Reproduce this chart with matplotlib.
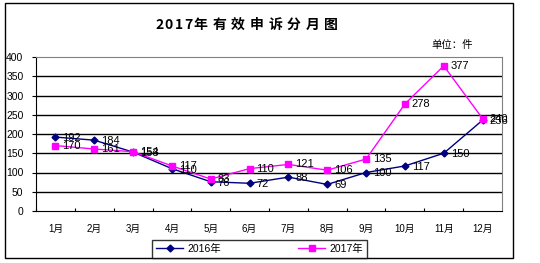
import matplotlib
matplotlib.use('Agg')
import matplotlib.pyplot as plt
from matplotlib.patches import Rectangle

plt.rcParams['font.family'] = ['Liberation Sans', 'Noto Sans CJK SC', 'DejaVu Sans']

# data
months = ['1月', '2月', '3月', '4月', '5月', '6月', '7月', '8月', '9月', '10月', '11月', '12月']
v2016 = [192, 184, 153, 110, 76, 72, 88, 69, 100, 117, 150, 236]
v2017 = [170, 161, 154, 117, 83, 110, 121, 106, 135, 278, 377, 240]
yticks = [0, 50, 100, 150, 200, 250, 300, 350, 400]

W, H = 540, 263
fig = plt.figure(figsize=(W / 100, H / 100), dpi=100)

# outer chart border
fig.patches.append(Rectangle((5 / W, 1 - 258 / H), 508 / W, 255 / H, transform=fig.transFigure,
                             fill=False, edgecolor='black', lw=1))

ax = fig.add_axes([36 / W, 1 - 211 / H, 466 / W, 154 / H])
x = list(range(1, len(months) + 1))

l1, = ax.plot(x, v2016, color='#000080', lw=1, marker='D', ms=3.5, label='2016年', zorder=3)
l2, = ax.plot(x, v2017, color='#FF00FF', lw=1, marker='s', ms=4.5, label='2017年', zorder=3)

for xi, v in zip(x, v2016):
    ax.annotate(str(v), (xi, v), xytext=(7, -1), textcoords='offset pixels',
                ha='left', va='center', fontsize=8, color='black', zorder=4)
for xi, v in zip(x, v2017):
    ax.annotate(str(v), (xi, v), xytext=(7, 0), textcoords='offset pixels',
                ha='left', va='center', fontsize=8, color='black', zorder=4)

ax.set_xlim(0.5, 12.5)
ax.set_ylim(0, 400)
ax.set_yticks(yticks)
ax.set_yticklabels([str(t) for t in yticks], fontsize=7.5)
for t in yticks[1:-1]:
    ax.axhline(t, color='black', lw=1, zorder=1)

ax.set_xticks(x)
ax.set_xticklabels(months, fontsize=7)
ax.tick_params(axis='x', length=0, pad=9)
ax.set_xticks([i + 0.5 for i in range(0, 12)], minor=True)
ax.tick_params(axis='x', which='minor', direction='in', length=2.5, width=0.8)
ax.tick_params(axis='y', length=3, width=0.8, pad=6)

ax.spines['left'].set_color('black')
ax.spines['bottom'].set_color('black')
ax.spines['top'].set_color('#808080')
ax.spines['right'].set_color('#808080')

# title with wide letter spacing
title = '2017年有效申诉分月图'
tx = 155
for ch in title:
    fig.text(tx / W, 1 - 25 / H, ch, fontsize=10, fontweight='bold', ha='left', va='center',
             family=['Noto Sans CJK SC'])
    tx += 9.7 if ch.isdigit() else 18.6

fig.text(431 / W, 1 - 45 / H, '单位：件', fontsize=7.5, ha='left', va='center',
         family=['Noto Sans CJK SC'])

leg = fig.legend(handles=[l1, l2], loc='lower left', ncol=2,
                 bbox_to_anchor=(152 / W, 1 - 258 / H, 215 / W, 21 / H), mode='expand',
                 fontsize=7.5, frameon=True, fancybox=False, edgecolor='black',
                 handlelength=2.6, borderaxespad=0, handletextpad=0.4)
leg.get_frame().set_linewidth(1)

fig.savefig('out.png', dpi=100)
